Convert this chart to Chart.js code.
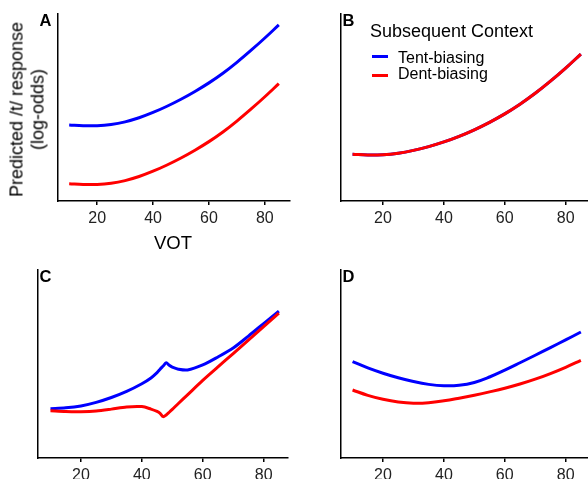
<!DOCTYPE html>
<html>
<head>
<meta charset="utf-8">
<script src="https://cdn.jsdelivr.net/npm/chart.js@4.4.1/dist/chart.umd.min.js"></script>
<style>
  html, body { margin: 0; padding: 0; background: #fff; }
  body { width: 588px; height: 479px; overflow: hidden; position: relative;
         font-family: "Liberation Sans", Arial, sans-serif; color: #000; }
  canvas { position: absolute; }
  .tag { position: absolute; font-weight: bold; font-size: 16.5px; line-height: 16px; }
  .txt { position: absolute; white-space: nowrap; line-height: 1; }
  .sw { position: absolute; width: 16px; height: 3px; }
</style>
</head>
<body>
<canvas id="cA" width="260" height="232" style="left:40px;top:0px"></canvas>
<canvas id="cB" width="300" height="232" style="left:300px;top:0px"></canvas>
<canvas id="cC" width="278" height="233" style="left:20px;top:256px"></canvas>
<canvas id="cD" width="300" height="233" style="left:300px;top:256px"></canvas>

<div class="tag" style="left:39.5px;top:12px">A</div>
<div class="tag" style="left:342.5px;top:12px">B</div>
<div class="tag" style="left:39.5px;top:268px">C</div>
<div class="tag" style="left:342.5px;top:268px">D</div>

<div class="txt" style="left:-73px;top:89px;width:200px;text-align:center;font-size:18px;line-height:20.5px;color:#000;transform:rotate(-90deg);">Predicted /t/ response<br>(log-odds)</div>
<div class="txt" style="left:123px;top:234px;width:100px;text-align:center;font-size:18.5px;">VOT</div>

<div class="txt" style="left:370px;top:22px;font-size:18px;">Subsequent Context</div>
<div class="sw" style="left:372px;top:54.5px;background:#0000ff"></div>
<div class="txt" style="left:398px;top:49.5px;font-size:16px;">Tent-biasing</div>
<div class="sw" style="left:372px;top:73.5px;background:#ff0000"></div>
<div class="txt" style="left:398px;top:66px;font-size:16px;">Dent-biasing</div>

<script>
const vot = [10, 15, 20, 25, 30, 35, 40, 45, 50, 55, 60, 65, 70, 75, 80, 85];
const votC = [10, 15, 20, 25, 30, 35, 40, 43, 45, 46, 47, 48, 49, 50, 52, 55, 60, 65, 70, 75, 80, 85];
const xTicks = [20, 40, 60, 80];

const aTent = [-1.12, -1.17, -1.17, -1.09, -0.92, -0.66, -0.32, 0.08, 0.53, 1.03, 1.58, 2.20, 2.90, 3.66, 4.46, 5.30];
const aDent = [-4.89, -4.94, -4.94, -4.86, -4.69, -4.43, -4.09, -3.69, -3.24, -2.74, -2.19, -1.57, -0.87, -0.11, 0.69, 1.53];

const bTent = [-3.00, -3.05, -3.03, -2.93, -2.75, -2.51, -2.21, -1.85, -1.43, -0.95, -0.41, 0.21, 0.91, 1.69, 2.53, 3.43];
const bDent = [-3.00, -3.05, -3.03, -2.93, -2.75, -2.51, -2.21, -1.85, -1.43, -0.95, -0.41, 0.21, 0.91, 1.69, 2.53, 3.43];

const cTent = [-2.85, -2.80, -2.68, -2.45, -2.14, -1.75, -1.26, -0.89, -0.55, -0.33, -0.13, 0.08, -0.08, -0.20, -0.33, -0.38, -0.06, 0.45, 1.02, 1.78, 2.58, 3.38];
const cDent = [-2.98, -3.03, -3.04, -3.00, -2.88, -2.74, -2.72, -2.88, -3.03, -3.15, -3.36, -3.25, -3.08, -2.90, -2.52, -1.97, -1.05, -0.19, 0.67, 1.53, 2.39, 3.25];

const dTent = [0.15, -0.25, -0.59, -0.88, -1.12, -1.30, -1.39, -1.36, -1.18, -0.83, -0.39, 0.08, 0.56, 1.05, 1.54, 2.04];
const dDent = [-1.66, -2.00, -2.25, -2.42, -2.50, -2.47, -2.35, -2.18, -1.99, -1.78, -1.55, -1.28, -0.97, -0.61, -0.21, 0.23];

const TENT = '#0000ff';
const DENT = '#ff0000';
const FONT = '"Liberation Sans", Arial, sans-serif';

function panel(id, xs, tent, dent, xmin, xmax, pad, tension) {
  const pts = ys => xs.map((x, i) => ({ x: x, y: ys[i] }));
  const line = (label, ys, color) => ({
    label: label, data: pts(ys), borderColor: color, borderWidth: 3,
    pointRadius: 0, fill: false, tension: tension,
    borderCapStyle: 'butt', borderJoinStyle: 'round'
  });
  new Chart(document.getElementById(id), {
    type: 'line',
    data: {
      // first dataset is painted on top
      datasets: [line('Dent-biasing', dent, DENT), line('Tent-biasing', tent, TENT)]
    },
    options: {
      responsive: false,
      animation: false,
      devicePixelRatio: 1,
      layout: { padding: pad },
      plugins: { legend: { display: false }, tooltip: { enabled: false } },
      scales: {
        x: {
          type: 'linear', min: xmin, max: xmax,
          afterBuildTicks: s => { s.ticks = xTicks.map(v => ({ value: v })); },
          afterFit: s => { s.height = 31; },
          grid: { drawOnChartArea: false, drawTicks: true, tickLength: 4, color: '#000', lineWidth: 1.5 },
          border: { color: '#000', width: 1.5 },
          ticks: { font: { family: FONT, size: 16 }, color: '#222', padding: 4, maxRotation: 0 }
        },
        y: {
          min: -6, max: 6,
          afterFit: s => { s.width = 0; },
          ticks: { display: false },
          grid: { drawOnChartArea: false, drawTicks: false },
          border: { color: '#000', width: 1.5 }
        }
      }
    }
  });
}

panel('cA', vot, aTent, aDent, 6, 89, { left: 18, top: 14, right: 10, bottom: 0 }, 0.4);
panel('cB', vot, bTent, bDent, 6.2, 88, { left: 41, top: 14, right: 10, bottom: 0 }, 0.4);
panel('cC', votC, cTent, cDent, 5.9, 88, { left: 18, top: 14, right: 10, bottom: 0 }, 0.3);
panel('cD', vot, dTent, dDent, 6.2, 88, { left: 41, top: 14, right: 10, bottom: 0 }, 0.4);
</script>
</body>
</html>
